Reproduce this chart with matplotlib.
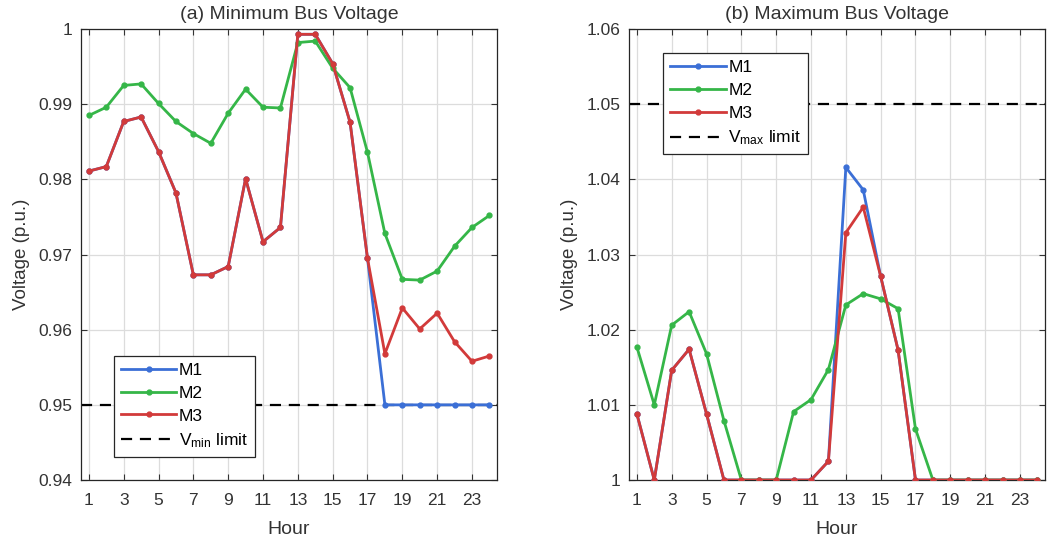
import matplotlib
matplotlib.use("Agg")
import matplotlib.pyplot as plt
import numpy as np

hours = list(range(1, 25))

# (a) Minimum bus voltage
min_m1 = [0.9811, 0.9817, 0.9877, 0.9883, 0.9837, 0.9782, 0.9673, 0.9673, 0.9684, 0.9801, 0.9717, 0.9736,
          0.9993, 0.9993, 0.9954, 0.9876, 0.9695, 0.9500, 0.9500, 0.9500, 0.9500, 0.9500, 0.9500, 0.9500]
min_m2 = [0.9885, 0.9896, 0.9925, 0.9927, 0.9901, 0.9877, 0.9861, 0.9848, 0.9888, 0.9920, 0.9896, 0.9895,
          0.9982, 0.9984, 0.9948, 0.9922, 0.9836, 0.9728, 0.9667, 0.9666, 0.9678, 0.9711, 0.9736, 0.9752]
min_m3 = [0.9811, 0.9817, 0.9877, 0.9883, 0.9837, 0.9782, 0.9673, 0.9673, 0.9684, 0.9801, 0.9717, 0.9736,
          0.9993, 0.9993, 0.9954, 0.9876, 0.9695, 0.9568, 0.9629, 0.9601, 0.9622, 0.9584, 0.9558, 0.9565]
v_min = 0.95

# (b) Maximum bus voltage
max_m1 = [1.0088, 1.0000, 1.0146, 1.0174, 1.0088, 1.0000, 1.0000, 1.0000, 1.0000, 1.0000, 1.0000, 1.0025,
          1.0416, 1.0386, 1.0271, 1.0173, 1.0000, 1.0000, 1.0000, 1.0000, 1.0000, 1.0000, 1.0000, 1.0000]
max_m2 = [1.0177, 1.0100, 1.0206, 1.0224, 1.0168, 1.0079, 1.0000, 1.0000, 1.0000, 1.0091, 1.0107, 1.0147,
          1.0233, 1.0248, 1.0241, 1.0228, 1.0068, 1.0000, 1.0000, 1.0000, 1.0000, 1.0000, 1.0000, 1.0000]
max_m3 = [1.0088, 1.0000, 1.0146, 1.0174, 1.0088, 1.0000, 1.0000, 1.0000, 1.0000, 1.0000, 1.0000, 1.0025,
          1.0329, 1.0363, 1.0271, 1.0173, 1.0000, 1.0000, 1.0000, 1.0000, 1.0000, 1.0000, 1.0000, 1.0000]
v_max = 1.05

xticks = [1, 3, 5, 7, 9, 11, 13, 15, 17, 19, 21, 23]
min_yticks = [0.94, 0.95, 0.96, 0.97, 0.98, 0.99, 1.00]
min_yticklabels = ["0.94", "0.95", "0.96", "0.97", "0.98", "0.99", "1"]
max_yticks = [1.00, 1.01, 1.02, 1.03, 1.04, 1.05, 1.06]
max_yticklabels = ["1", "1.01", "1.02", "1.03", "1.04", "1.05", "1.06"]

plt.rcParams['font.family'] = ['Liberation Sans', 'DejaVu Sans']
plt.rcParams['mathtext.fontset'] = 'custom'
plt.rcParams['mathtext.rm'] = 'Liberation Sans'
plt.rcParams['mathtext.it'] = 'Liberation Sans'

C_BLUE = '#3b6fd6'
C_GREEN = '#35b648'
C_RED = '#d23a3a'
TXT = '#333333'

fig = plt.figure(figsize=(10.47, 5.44), dpi=100)
ax1 = fig.add_axes([0.0774, 0.1176, 0.397, 0.829])
ax2 = fig.add_axes([0.6008, 0.1176, 0.397, 0.829])

def style(ax, yticks, ylabels, ylim, title):
    ax.set_xlim(0.55, 24.42)
    ax.set_ylim(*ylim)
    ax.set_xticks(xticks)
    ax.set_xticklabels([str(t) for t in xticks])
    ax.set_yticks(yticks)
    ax.set_yticklabels(ylabels)
    ax.grid(True, color='#dcdcdc', linewidth=0.9)
    ax.set_axisbelow(True)
    ax.tick_params(direction='in', top=True, right=True, labelsize=12.5,
                   colors=TXT, length=4, width=0.8)
    ax.tick_params(axis='x', pad=9)
    ax.tick_params(axis='y', pad=6)
    for s in ax.spines.values():
        s.set_color('#262626')
        s.set_linewidth(0.9)
    ax.set_title(title, fontsize=14, color=TXT, pad=7)
    ax.set_xlabel('Hour', fontsize=14, color=TXT, labelpad=10)
    ax.set_ylabel('Voltage (p.u.)', fontsize=13.5, color=TXT, labelpad=6)

lkw = dict(linewidth=2.0, marker='o', markersize=3.5)

# Left
l1, = ax1.plot(hours, min_m1, color=C_BLUE, label='M1', zorder=3, **lkw)
l2, = ax1.plot(hours, min_m2, color=C_GREEN, label='M2', zorder=4, **lkw)
l3, = ax1.plot(hours, min_m3, color=C_RED, label='M3', zorder=5, **lkw)
l4 = ax1.axhline(v_min, color='black', linestyle=(0, (5, 3.5)), linewidth=1.6,
                 label=r'V$_{\mathrm{min}}$ limit', zorder=2)
style(ax1, min_yticks, min_yticklabels, (0.94, 1.0), '(a) Minimum Bus Voltage')
leg1 = ax1.legend(handles=[l1, l2, l3, l4], loc='lower left', bbox_to_anchor=(0.079, 0.051),
                  fontsize=12.5, fancybox=False, framealpha=1, edgecolor='#262626',
                  borderaxespad=0, handlelength=3.2, handletextpad=0.15, labelspacing=0.45,
                  borderpad=0.4)
leg1.get_frame().set_linewidth(0.9)

# Right
r1, = ax2.plot(hours, max_m1, color=C_BLUE, label='M1', zorder=3, **lkw)
r2, = ax2.plot(hours, max_m2, color=C_GREEN, label='M2', zorder=4, **lkw)
r3, = ax2.plot(hours, max_m3, color=C_RED, label='M3', zorder=5, **lkw)
r4 = ax2.axhline(v_max, color='black', linestyle=(0, (5, 3.5)), linewidth=1.6,
                 label=r'V$_{\mathrm{max}}$ limit', zorder=2)
style(ax2, max_yticks, max_yticklabels, (1.0, 1.06), '(b) Maximum Bus Voltage')
leg2 = ax2.legend(handles=[r1, r2, r3, r4], loc='upper left', bbox_to_anchor=(0.082, 0.947),
                  fontsize=12.5, fancybox=False, framealpha=1, edgecolor='#262626',
                  borderaxespad=0, handlelength=3.2, handletextpad=0.15, labelspacing=0.45,
                  borderpad=0.4)
leg2.get_frame().set_linewidth(0.9)

fig.savefig('out.png', dpi=100)
